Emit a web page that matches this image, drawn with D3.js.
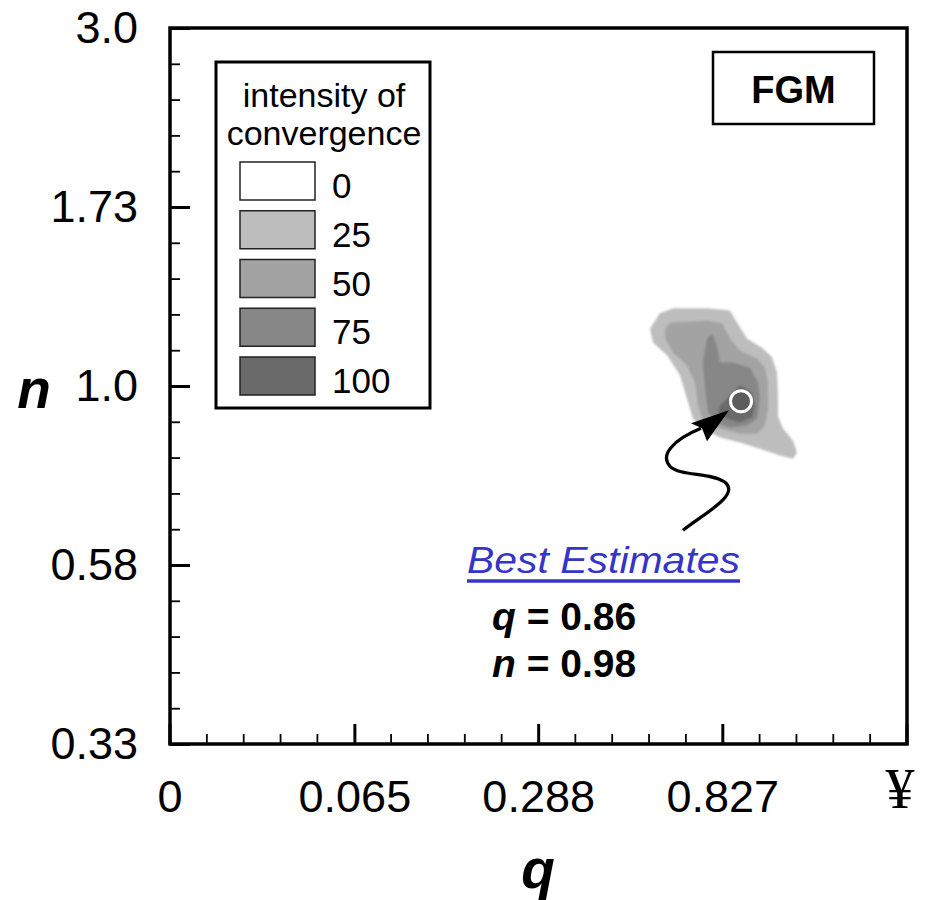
<!DOCTYPE html>
<html><head><meta charset="utf-8">
<script src="https://cdn.jsdelivr.net/npm/d3@7"></script>
<style>html,body{margin:0;padding:0;background:#fff;} svg{display:block;font-family:"Liberation Sans",Arial,sans-serif;}</style>
</head><body><svg id="c" width="936" height="900"></svg>
<script>
// ---- data ----
const xTickValues = [0, 0.065, 0.288, 0.827, Infinity];
const xTickLabels = ["0", "0.065", "0.288", "0.827", "¥"];
const yTickValues = [1/3, 1/Math.sqrt(3), 1, Math.sqrt(3), 3];
const yTickLabels = ["0.33", "0.58", "1.0", "1.73", "3.0"];
const legendLevels = [0, 25, 50, 75, 100];
const legendColors = ["#ffffff", "#bdbdbd", "#a3a3a3", "#878787", "#6a6a6a"];
// contour regions [q, n] for each intensity level
const contour25 = [[0.552,1.193],[0.583,1.250],[0.627,1.269],[0.757,1.269],[0.861,1.261],[0.896,1.215],[0.949,1.157],[1.042,1.122],[1.100,1.092],[1.134,1.042],[1.141,0.971],[1.141,0.913],[1.177,0.878],[1.254,0.846],[1.286,0.815],[1.254,0.800],[1.155,0.808],[1.024,0.825],[0.912,0.841],[0.814,0.854],[0.740,0.878],[0.700,0.905],[0.677,0.962],[0.652,1.033],[0.607,1.098],[0.561,1.143]];
const contour50 = [[0.600,1.193],[0.617,1.215],[0.757,1.223],[0.823,1.212],[0.861,1.157],[0.912,1.115],[1.006,1.088],[1.055,1.058],[1.074,1.011],[1.074,0.933],[1.055,0.886],[1.006,0.864],[0.912,0.864],[0.814,0.878],[0.740,0.899],[0.720,0.942],[0.708,1.011],[0.677,1.065],[0.627,1.108],[0.600,1.157]];
const contour75 = [[0.757,1.157],[0.778,1.175],[0.800,1.133],[0.814,1.075],[0.876,1.075],[0.966,1.058],[1.012,1.011],[1.024,0.962],[1.006,0.905],[0.949,0.886],[0.861,0.880],[0.800,0.894],[0.761,0.922],[0.749,0.992],[0.740,1.075]];
const contour100 = [[0.814,0.942],[0.861,0.971],[0.912,1.002],[0.977,0.980],[0.995,0.942],[0.977,0.908],[0.912,0.894],[0.847,0.905],[0.805,0.919]];
const contours = [contour25, contour50, contour75, contour100];
const bestMarker = [0.917, 0.954];
const bestQ = "0.86", bestN = "0.98";

// ---- layout ----
const L = 170, R = 907, T = 28, B = 744;
const svg = d3.select("#c");
const xs = d3.scaleSqrt().domain([0, 1]).range([L, R]);
const x = q => xs(1 - Math.exp(-q));
const y = d3.scaleLog().base(3).domain([1/3, 3]).range([B, T]);

const defs = svg.append("defs");
defs.append("filter").attr("id","soft").append("feGaussianBlur").attr("stdDeviation",0.8);

// contours
const line = d3.line().x(d => x(d[0])).y(d => y(d[1])).curve(d3.curveLinearClosed);
svg.append("g").attr("filter","url(#soft)").selectAll("path").data(contours).join("path")
  .attr("d", line).attr("fill", (d,i) => legendColors[i+1]);

// marker
svg.append("circle").attr("cx", x(bestMarker[0])).attr("cy", y(bestMarker[1])).attr("r", 10.5)
  .attr("fill", "#5c5c5c").attr("stroke", "#fff").attr("stroke-width", 3);

// arrow (relative to marker)
const mx = x(bestMarker[0]), my = y(bestMarker[1]);
const p = (dx, dy) => (mx+dx)+","+(my+dy);
svg.append("path").attr("d", "M"+p(-58,129)+" C"+p(-40,114)+" "+p(0,94)+" "+p(-16,81)+" C"+p(-29,71)+" "+p(-61,75)+" "+p(-71,65)+" C"+p(-81,54)+" "+p(-69,39)+" "+p(-40,27))
  .attr("fill","none").attr("stroke","#000").attr("stroke-width",3.2);
svg.append("path").attr("d","M"+p(-12,9)+" L"+p(-50,22)+" L"+p(-39,27)+" L"+p(-34,40)+" Z").attr("fill","#000");

// y axis
const yMinor = d3.range(-9, 10).filter(i => i % 5 !== 0).map(i => Math.pow(3, i/10));
svg.append("g").attr("transform",`translate(${L},0)`)
  .call(d3.axisLeft(y).tickValues(yMinor).tickSizeInner(-10).tickSizeOuter(0).tickFormat(""))
  .call(g => g.select(".domain").remove()).selectAll("line").attr("stroke-width",1.8);
const gy = svg.append("g").attr("transform",`translate(${L},0)`)
  .call(d3.axisLeft(y).tickValues(yTickValues).tickSizeInner(-20).tickSizeOuter(0).tickPadding(32)
    .tickFormat((d,i) => yTickLabels[i]));
gy.select(".domain").remove();
gy.selectAll("line").attr("stroke-width",3);
gy.selectAll("text").attr("font-size",45).attr("font-family","Liberation Sans, Arial").attr("fill","#000");

// x axis
const xMinorQ = d3.range(1, 20).filter(i => i % 5 !== 0).map(i => -Math.log(1 - (i/20)*(i/20)));
const xMinorG = svg.append("g").attr("transform",`translate(0,${B})`);
xMinorG.selectAll("line").data(xMinorQ).join("line")
  .attr("x1", d => x(d)).attr("x2", d => x(d)).attr("y1", 0).attr("y2", -10).attr("stroke","#000").attr("stroke-width",1.8);
const xMajorG = svg.append("g").attr("transform",`translate(0,${B})`);
xMajorG.selectAll("line").data(xTickValues).join("line")
  .attr("x1", d => x(d)).attr("x2", d => x(d)).attr("y1", 0).attr("y2", -20).attr("stroke","#000").attr("stroke-width",3);
xMajorG.selectAll("text").data(xTickValues).join("text")
  .attr("x", d => x(d)).attr("y", (d,i) => i === 4 ? 64 : 68).attr("text-anchor","middle")
  .attr("font-size", (d,i) => i === 4 ? 58 : 45)
  .attr("font-family", (d,i) => i === 4 ? "Liberation Serif, Times New Roman, serif" : "Liberation Sans, Arial")
  .attr("dx", (d,i) => i === 4 ? -7 : 0)
  .text((d,i) => xTickLabels[i]);

// frame
svg.append("rect").attr("x",L).attr("y",T).attr("width",R-L).attr("height",B-T)
  .attr("fill","none").attr("stroke","#000").attr("stroke-width",3.5);

// axis titles
svg.append("text").attr("x",538).attr("y",888).attr("text-anchor","middle")
  .attr("font-size",55).attr("font-weight","bold").attr("font-style","italic").text("q");
svg.append("text").attr("x",34).attr("y",408).attr("text-anchor","middle")
  .attr("font-size",55).attr("font-weight","bold").attr("font-style","italic").text("n");

// legend
const lg = svg.append("g");
lg.append("rect").attr("x",216).attr("y",62).attr("width",214).attr("height",346)
  .attr("fill","#fff").attr("stroke","#000").attr("stroke-width",3);
lg.append("text").attr("x",324).attr("y",107).attr("text-anchor","middle").attr("font-size",34).text("intensity of");
lg.append("text").attr("x",324).attr("y",145).attr("text-anchor","middle").attr("font-size",34).text("convergence");
const rowY = d3.scaleLinear().domain([0,4]).range([162,357]);
lg.selectAll(".sw").data(legendLevels).join("rect").attr("class","sw")
  .attr("x",240).attr("y",(d,i)=>rowY(i)).attr("width",75).attr("height",38)
  .attr("fill",(d,i)=>legendColors[i]).attr("stroke","#222").attr("stroke-width",1.5);
lg.selectAll(".lb").data(legendLevels).join("text").attr("class","lb")
  .attr("x",332).attr("y",(d,i)=>rowY(i)+36).attr("font-size",35).text(d=>d);

// FGM box
svg.append("rect").attr("x",713).attr("y",52).attr("width",161).attr("height",72)
  .attr("fill","#fff").attr("stroke","#000").attr("stroke-width",2.5);
svg.append("text").attr("x",793.5).attr("y",103).attr("text-anchor","middle")
  .attr("font-size",38).attr("font-weight","bold").text("FGM");

// best estimates annotation
svg.append("text").attr("x",467).attr("y",573).attr("font-size",37).attr("font-style","italic")
  .attr("fill","#3535c8").attr("textLength",273).attr("lengthAdjust","spacingAndGlyphs").text("Best Estimates");
svg.append("line").attr("x1",467).attr("x2",740).attr("y1",581).attr("y2",581).attr("stroke","#3535c8").attr("stroke-width",3.5);
const t1 = svg.append("text").attr("x",492).attr("y",630).attr("font-size",39).attr("font-weight","bold");
t1.append("tspan").attr("font-style","italic").text("q");
t1.append("tspan").text(" = " + bestQ);
const t2 = svg.append("text").attr("x",492).attr("y",677).attr("font-size",39).attr("font-weight","bold");
t2.append("tspan").attr("font-style","italic").text("n");
t2.append("tspan").text(" = " + bestN);
</script></body></html>
